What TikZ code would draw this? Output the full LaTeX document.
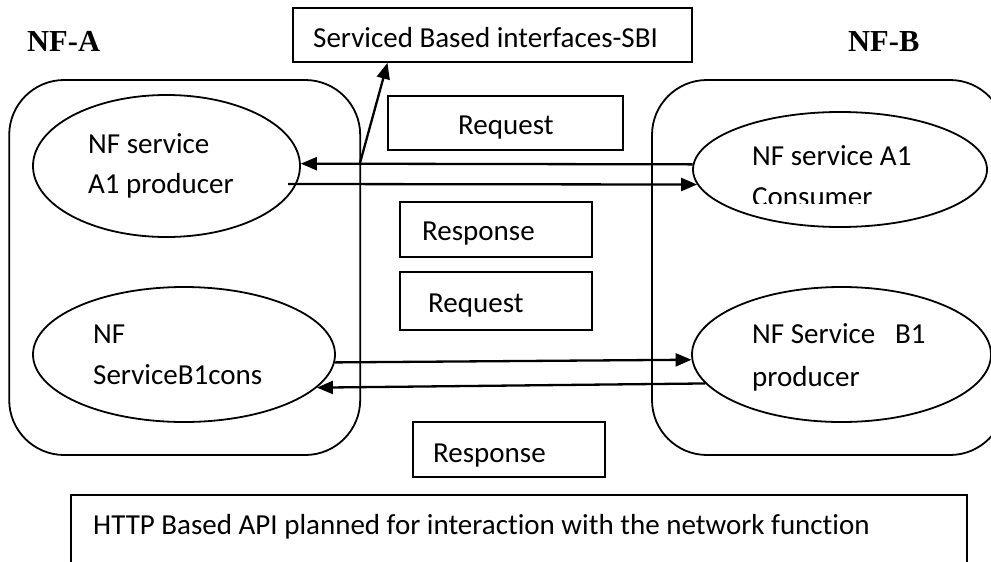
\documentclass[tikz,border=0pt]{standalone}
\usepackage{fontspec}
\setmainfont{Carlito}[Ligatures={NoCommon,NoContextual}]
\newfontfamily\timesfont{Liberation Serif}
\usetikzlibrary{arrows.meta,shapes.geometric,calc}
\begin{document}
\begin{tikzpicture}[x=1pt,y=-1pt,
  shapeline/.style={draw=black, line width=1.8pt},
  container/.style={shapeline, rectangle, rounded corners=55pt, inner sep=0},
  svc/.style={shapeline, ellipse, inner sep=0},
  msgbox/.style={shapeline, rectangle, inner sep=0},
  txt/.style={font=\fontsize{29}{35}\selectfont, inner sep=0, anchor=base west},
  nftitle/.style={font=\timesfont\bfseries\fontsize{30.5}{36}\selectfont, inner sep=0, anchor=base west},
  flow/.style={line width=2.3pt, -{Triangle[length=16pt,width=13pt]}}]
\useasboundingbox (0,0) rectangle (991,562);
\clip (0,0) rectangle (991,562);
% containers
\node[container, minimum width=351pt, minimum height=375pt] (nfA) at (184.7,267.5) {};
\node[container, minimum width=353pt, minimum height=375pt] (nfB) at (828.5,267.5) {};
\node[nftitle] (labA) at (27,51.7) {NF-A};
\node[nftitle] (labB) at (848,51.7) {NF-B};
% boxes
\node[msgbox, minimum width=399pt, minimum height=54pt] (sbi) at (492.5,35) {};
\node[txt] (sbiT) at (313,47) {Serviced Based interfaces-SBI};
\node[msgbox, minimum width=235pt, minimum height=54pt] (req1) at (505.5,123) {};
\node[txt] (req1T) at (458,134) {Request};
\node[msgbox, minimum width=192pt, minimum height=55pt] (resp1) at (496,229.5) {};
\node[txt] (resp1T) at (422,240.5) {Response};
\node[msgbox, minimum width=192pt, minimum height=58pt] (req2) at (496,301) {};
\node[txt] (req2T) at (428,312) {Request};
\node[msgbox, minimum width=192pt, minimum height=55pt] (resp2) at (509,449.5) {};
\node[txt] (resp2T) at (433,462) {Response};
\node[msgbox, minimum width=896pt, minimum height=105pt] (http) at (519,547.5) {};
\node[txt] (httpT) at (93,534) {HTTP Based API planned for interac\kern0pt tion with the network func\kern0pt tion};
% services
\node[svc, minimum width=267pt, minimum height=142pt] (prodA) at (166.5,166) {};
\node[txt] (prodAT1) at (88,153.5) {NF service};
\node[txt] (prodAT2) at (88,193.5) {A1 producer};
\node[svc, minimum width=294pt, minimum height=115pt] (consA) at (840,169.5) {};
\node[txt] (consAT1) at (752,165.5) {NF service A1};
\begin{scope}
\clip (740,170) rectangle (960,203);
\node[txt] (consAT2) at (752,206.5) {Consumer};
\end{scope}
\node[svc, minimum width=302pt, minimum height=135pt] (consB) at (184,354.5) {};
\node[txt] (consBT1) at (93,343.5) {NF};
\node[txt] (consBT2) at (93,384) {ServiceB1cons};
\node[svc, minimum width=299pt, minimum height=135pt] (prodB) at (841.5,354.5) {};
\node[txt] (prodBT1) at (752,343.5) {NF Service\ \ \ B1};
\node[txt] (prodBT2) at (752,386) {producer};
% connectors
\coordinate (sbiFoot) at (360,163);
\draw[flow] (sbiFoot) -- ($(sbi.south west)!0.238!(sbi.south east)$);
\draw[flow] (consA.178) -- (prodA.1);
\coordinate (reqStart) at (288,184);
\draw[flow] (reqStart) -- (consA.186);
\draw[flow] (consB.-3) -- (prodB.182);
\draw[flow] (prodB.192) -- (consB.-14);
\end{tikzpicture}
\end{document}
